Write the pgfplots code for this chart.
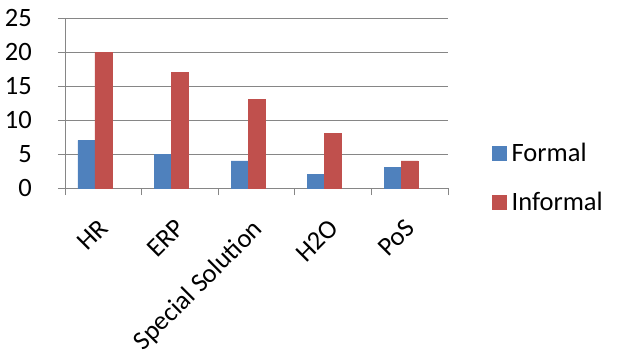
\documentclass[border=0pt]{standalone}
\usepackage{fontspec}
\setmainfont{Carlito}
\usepackage{pgfplots}
\pgfplotsset{compat=1.18}

\definecolor{formalblue}{RGB}{79,129,189}
\definecolor{informalred}{RGB}{192,80,77}
\definecolor{axisgray}{RGB}{134,134,134}
\newcommand{\chartfont}{\fontsize{26.5}{31}\selectfont}

\begin{document}
\begin{tikzpicture}
\useasboundingbox (-65pt,-161pt) rectangle (552pt,188pt);
\begin{axis}[
  scale only axis,
  width=383pt, height=170pt,
  font=\chartfont,
  tick label style={font=\chartfont},
  /pgf/number format/assume math mode=true,
  xmin=-0.5, xmax=4.5,
  ymin=0, ymax=25,
  ytick={0,5,...,25},
  xtick={0,1,2,3,4},
  xticklabels={HR,ERP,Special Solution,H2O,PoS},
  minor xtick={-0.5,0.5,...,4.5},
  major x tick style={draw=none},
  minor tick length=7pt,
  major tick length=7pt,
  tick align=outside,
  tick style={axisgray, line width=0.8pt},
  axis x line*=bottom,
  axis y line*=left,
  axis line style={axisgray, line width=0.8pt, -},
  ymajorgrids,
  grid style={axisgray, line width=0.8pt},
  yticklabel style={anchor=east, inner sep=0pt, xshift=-26pt},
  xticklabel style={rotate=45, anchor=north east, inner sep=0pt, xshift=-20pt, yshift=-12pt},
  ybar=0pt,
  bar width=17pt,
  legend style={at={(rel axis cs:1,0.06)}, anchor=west, xshift=41pt,
    draw=none, fill=none, row sep=25pt, font=\chartfont},
  legend cell align=left,
  legend image code/.code={%
    \fill[#1] (0pt,-7pt) rectangle (14pt,7pt);
    \path (17pt,0pt);},
]
\addplot[fill=formalblue, draw=formalblue, bar shift=-17pt]
  coordinates {(0,7) (1,5) (2,4) (3,2) (4,3)};
\addplot[fill=informalred, draw=informalred, bar shift=0pt]
  coordinates {(0,20) (1,17) (2,13) (3,8) (4,4)};
\legend{Formal, Informal}
\end{axis}
\end{tikzpicture}
\end{document}
